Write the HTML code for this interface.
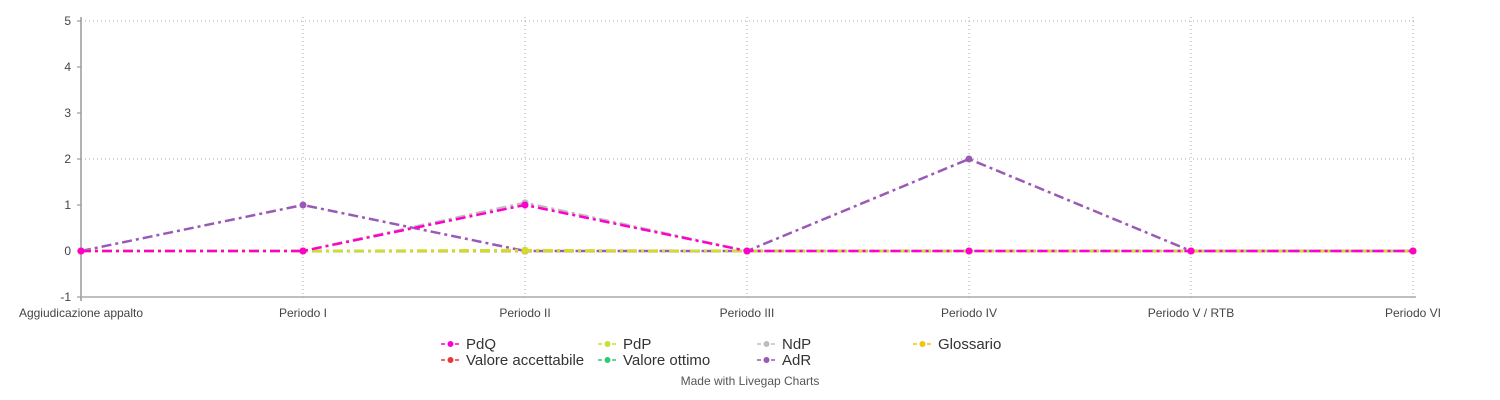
<!DOCTYPE html>
<html><head><meta charset="utf-8"><style>
body{margin:0;background:#fff;font-family:"Liberation Sans",sans-serif;}
svg{display:block}
</style></head><body>
<svg id="chart" width="1500" height="400"></svg>
<script>
const categories=["Aggiudicazione appalto","Periodo I","Periodo II","Periodo III","Periodo IV","Periodo V / RTB","Periodo VI"];
const yTicks=[-1,0,1,2,3,4,5];
const gridY=[2,5];
const seriesNames=["Valore accettabile","Valore ottimo","NdP","AdR","Glossario","PdP","PdQ"];
const seriesColors=["#e8383d","#2ecc71","#bdbdbd","#9b59b6","#f1c40f","#cddc39","#ff00cc"];
const valAccettabile=[0,0,0,0,0,0,0];
const valOttimo=[0,0,0,0,0,0,0];
const glossario=[0,0,0,0,0,0,0];
const pdp=[0,0,0.02,0,0,0,0];
const ndp=[0,0,1.05,0,0,0,0];
const adr=[0,1,0,0,2,0,0];
const pdq=[0,0,1,0,0,0,0];
const seriesValues=[valAccettabile,valOttimo,ndp,adr,glossario,pdp,pdq];
const legendOrder=["PdQ","PdP","NdP","Glossario","Valore accettabile","Valore ottimo","AdR"];

const svg=document.getElementById('chart');
const NS="http://www.w3.org/2000/svg";
const X0=81,X1=1413,Y0=297,Y1=21,YMIN=-1,YMAX=5;
const xs=i=>X0+(X1-X0)*i/(categories.length-1);
const ys=v=>Y0-(v-YMIN)/(YMAX-YMIN)*(Y0-Y1);
function mk(t,a,p){const e=document.createElementNS(NS,t);for(const k in a)e.setAttribute(k,a[k]);(p||svg).appendChild(e);return e;}

gridY.forEach(v=>{
 const l=mk('line',{x1:X0,x2:X1+3,y1:ys(v),y2:ys(v),stroke:'#aaa','stroke-dasharray':'1,3'});
 
 
});
categories.forEach((c,i)=>{
 if(i>0){const l=mk('line',{x1:xs(i),x2:xs(i),y1:Y1-4,y2:Y0+3,stroke:'#aaa','stroke-dasharray':'1,3'});
 
 }
 const t=mk('text',{x:xs(i),y:Y0+20,'text-anchor':'middle','font-size':12,fill:'#444'});
 t.textContent=c;
 
 
});
yTicks.forEach(v=>{
 const t=mk('text',{x:X0-10,y:ys(v)+4,'text-anchor':'end','font-size':12,fill:'#444'});
 t.textContent=v;
 
 
 mk('line',{x1:X0-4,x2:X0,y1:ys(v),y2:ys(v),stroke:'#888'});
});
const ya=mk('line',{x1:X0,x2:X0,y1:Y1-4,y2:Y0+4,stroke:'#999','stroke-width':1.5});


const xa=mk('line',{x1:X0,x2:X1+3,y1:Y0,y2:Y0,stroke:'#aaa','stroke-width':1.5});



seriesValues.forEach((vals,si)=>{
 const g=mk('g',{});
 
 
 const pts=vals.map((v,i)=>xs(i)+','+ys(v)).join(' ');
 mk('polyline',{points:pts,fill:'none',stroke:seriesColors[si],'stroke-width':2.5,'stroke-dasharray':'10,4,3,4'},g);
 vals.forEach((v,i)=>{
  const c=mk('circle',{cx:xs(i),cy:ys(v),r:3.5,fill:seriesColors[si]},g);
  
  
 });
});

const lx=[441,598,757,913],ly=[344,360];
legendOrder.forEach((n,k)=>{
 const si=seriesNames.indexOf(n);
 const x=lx[k%4],y=ly[Math.floor(k/4)];
 const g=mk('g',{});
 
 
 mk('line',{x1:x,x2:x+19,y1:y,y2:y,stroke:seriesColors[si],'stroke-width':1.5,'stroke-dasharray':'4,3'},g);
 mk('circle',{cx:x+9.5,cy:y,r:3,fill:seriesColors[si]},g);
 const t=mk('text',{x:x+25,y:y+5,'font-size':15,fill:'#333'},g);
 t.textContent=n;
});
const f=mk('text',{x:750,y:385,'text-anchor':'middle','font-size':12,fill:'#555'});
f.textContent='Made with Livegap Charts';


</script>
</body></html>
